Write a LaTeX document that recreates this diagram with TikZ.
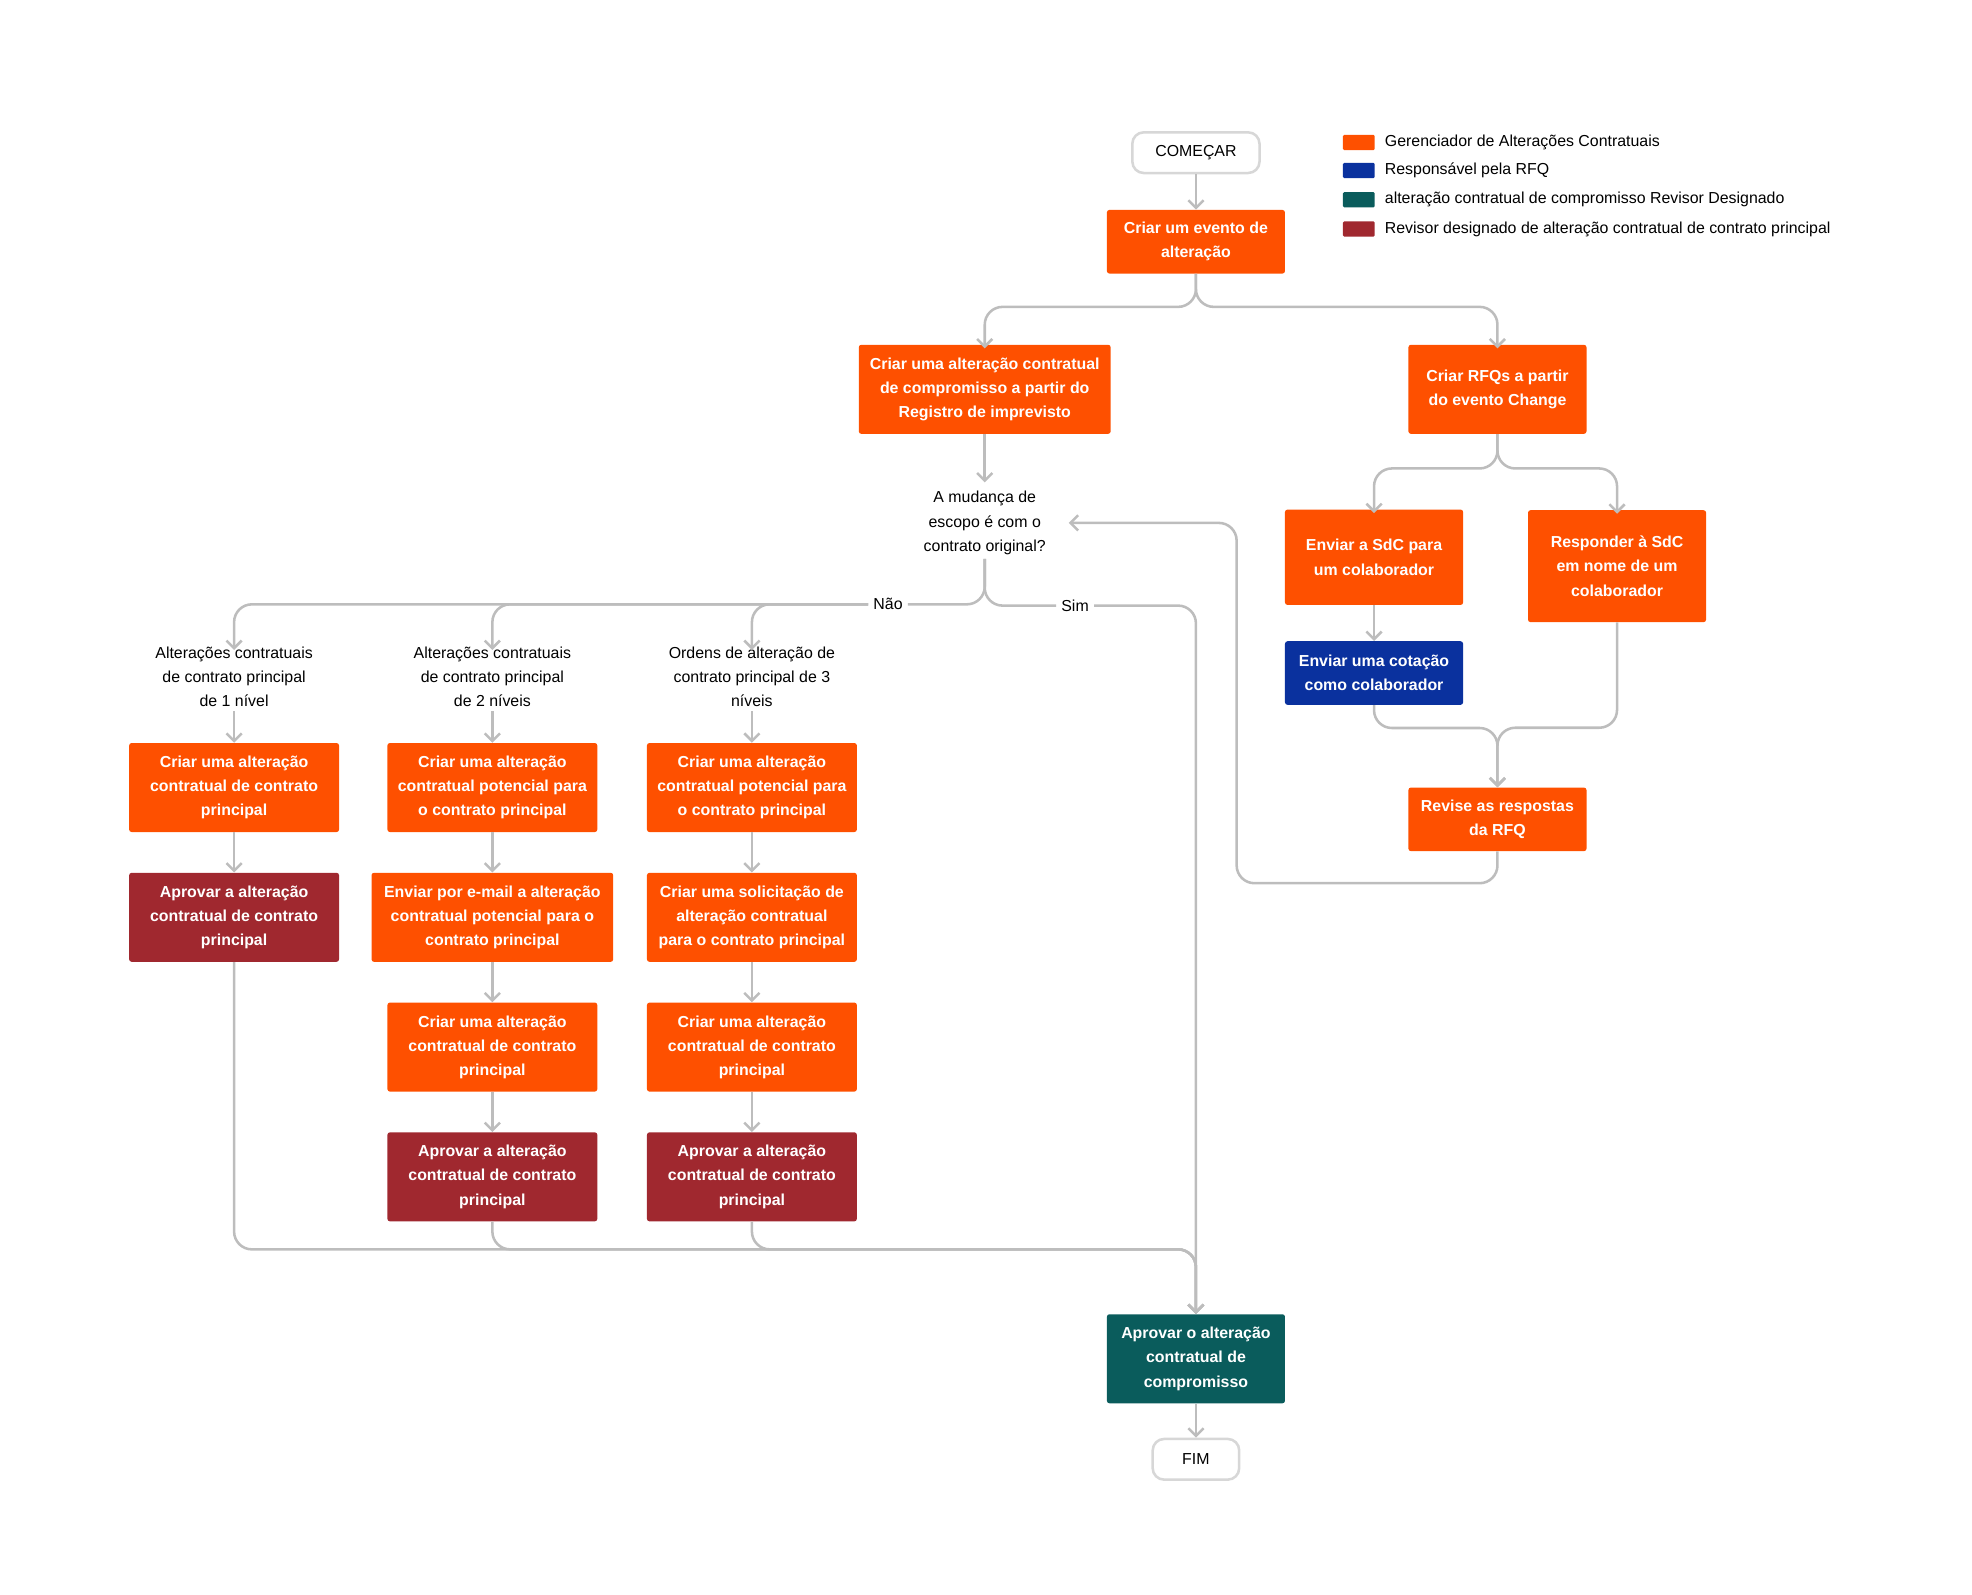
\documentclass[tikz,border=0pt]{standalone}
\usepackage{fontspec}
\setmainfont{Liberation Sans}
\usetikzlibrary{arrows.meta, positioning}
\definecolor{laranja}{HTML}{FE5000}
\definecolor{azul}{HTML}{0A319E}
\definecolor{petroleo}{HTML}{0A5C5C}
\definecolor{vinho}{HTML}{A0282F}
\definecolor{linha}{HTML}{BDBDBD}
\begin{document}
\begin{tikzpicture}[%
    x = 1pt, y = -1pt,
    font = \fontsize{12.5}{19}\selectfont,
    box/.style = {%
      rectangle, rounded corners = 2pt, draw = none,
      text = white, font = \fontsize{12.5}{19}\selectfont\bfseries,
      align = center, minimum height = 50pt, inner sep = 3pt },
    acao/.style = {box, fill = laranja},
    rfq/.style = {box, fill = azul},
    revisor/.style = {box, fill = vinho},
    compr/.style = {box, fill = petroleo},
    term/.style = {%
      rectangle, rounded corners = 9pt, draw = linha!60, line width = 2pt,
      minimum height = 32pt, fill = white },
    txt/.style = {align = center},
    flow/.style = {%
      draw = linha, line width = 2pt, rounded corners = 14pt,
      -{Straight Barb[length=6pt, width=12pt]} },
    leg/.style = {rectangle, minimum width = 25pt, minimum height = 12pt,
      inner sep = 0pt, rounded corners = 1pt}
  ]
\useasboundingbox (0,0) rectangle (1550,1253);

% legenda
\node[leg, fill = laranja] (l1) at (1068,112) {};
\node[leg, fill = azul] (l2) at (1068,134) {};
\node[leg, fill = petroleo] (l3) at (1068,157) {};
\node[leg, fill = vinho] (l4) at (1068,180) {};
\node[anchor = west] at (1085,112) {Gerenciador de Alterações Contratuais};
\node[anchor = west] at (1085,134) {Responsável pela RFQ};
\node[anchor = west] at (1085,157) {alteração contratual de compromisso Revisor Designado};
\node[anchor = west] at (1085,180) {Revisor designado de alteração contratual de contrato principal};

% fluxo principal
\node[term, minimum width = 100pt] (inicio) at (940,120) {COMEÇAR};
\node[acao, minimum width = 140pt] (evento) at (940,190) {Criar um evento de\\alteração};
\node[acao, minimum width = 198pt, minimum height = 70pt] (compromisso) at (774,306)
  {Criar uma alteração contratual\\de compromisso a partir do\\Registro de imprevisto};
\node[acao, minimum width = 140pt, minimum height = 70pt] (rfqs) at (1177,306)
  {Criar RFQs a partir\\do evento Change};
\node[txt] (pergunta) at (774,411) {A mudança de\\escopo é com o\\contrato original?};

% ramo RFQ
\node[acao, minimum width = 140pt, minimum height = 75pt] (enviar) at (1080,438)
  {Enviar a SdC para\\um colaborador};
\node[acao, minimum width = 140pt, minimum height = 88pt] (responder) at (1271,445)
  {Responder à SdC\\em nome de um\\colaborador};
\node[rfq, minimum width = 140pt] (cotacao) at (1080,529) {Enviar uma cotação\\como colaborador};
\node[acao, minimum width = 140pt] (revise) at (1177,644) {Revise as respostas\\da RFQ};

% colunas
\node[txt] (nivel1) at (184,532) {Alterações contratuais\\de contrato principal\\de 1 nível};
\node[txt] (nivel2) at (387,532) {Alterações contratuais\\de contrato principal\\de 2 níveis};
\node[txt] (nivel3) at (591,532) {Ordens de alteração de\\contrato principal de 3\\níveis};

\node[acao, minimum width = 165pt, minimum height = 70pt] (a1) at (184,619)
  {Criar uma alteração\\contratual de contrato\\principal};
\node[revisor, minimum width = 165pt, minimum height = 70pt] (b1) at (184,721)
  {Aprovar a alteração\\contratual de contrato\\principal};

\node[acao, minimum width = 165pt, minimum height = 70pt] (a2) at (387,619)
  {Criar uma alteração\\contratual potencial para\\o contrato principal};
\node[acao, minimum width = 190pt, minimum height = 70pt] (b2) at (387,721)
  {Enviar por e-mail a alteração\\contratual potencial para o\\contrato principal};
\node[acao, minimum width = 165pt, minimum height = 70pt] (c2) at (387,823)
  {Criar uma alteração\\contratual de contrato\\principal};
\node[revisor, minimum width = 165pt, minimum height = 70pt] (d2) at (387,925)
  {Aprovar a alteração\\contratual de contrato\\principal};

\node[acao, minimum width = 165pt, minimum height = 70pt] (a3) at (591,619)
  {Criar uma alteração\\contratual potencial para\\o contrato principal};
\node[acao, minimum width = 165pt, minimum height = 70pt] (b3) at (591,721)
  {Criar uma solicitação de\\alteração contratual\\para o contrato principal};
\node[acao, minimum width = 165pt, minimum height = 70pt] (c3) at (591,823)
  {Criar uma alteração\\contratual de contrato\\principal};
\node[revisor, minimum width = 165pt, minimum height = 70pt] (d3) at (591,925)
  {Aprovar a alteração\\contratual de contrato\\principal};

\node[compr, minimum width = 140pt, minimum height = 70pt] (aprovar) at (940,1068)
  {Aprovar o alteração\\contratual de\\compromisso};
\node[term, minimum width = 68pt] (fim) at (940,1147) {FIM};

\node[fill = white, inner sep = 4pt] (nao) at (698,475) {Não};
\node[fill = white, inner sep = 4pt] (sim) at (845,476) {Sim};
\coordinate (volta) at (840,411);

% conexoes
\draw[flow] (inicio) -- (evento);
\draw[flow] (evento.south) -- ++(0,26) -| ([yshift=-3pt]compromisso.north);
\draw[flow] (evento.south) -- ++(0,26) -| ([yshift=-3pt]rfqs.north);
\draw[flow] (compromisso.south) -- ++(0,38);
\draw[flow, -] (pergunta.south) |- (nao.east);
\draw[flow] (nao.west) -| ([yshift=-6pt]nivel1.north);
\draw[flow] (nao.west) -| ([yshift=-6pt]nivel2.north);
\draw[flow] (nao.west) -| ([yshift=-6pt]nivel3.north);
\draw[flow, -] (pergunta.south) |- (sim.west);
\draw[flow] (sim.east) -| (aprovar.north);

\draw[flow] (rfqs.south) -- ++(0,27) -| ([yshift=-3pt]enviar.north);
\draw[flow] (rfqs.south) -- ++(0,27) -| ([yshift=-3pt]responder.north);
\draw[flow] (enviar) -- (cotacao);
\draw[flow] (cotacao.south) -- ++(0,18) -| (revise.north);
\draw[flow] (responder.south) |- (1177,572) -- (revise.north);
\draw[flow] (revise.south) -- ++(0,25) -| (972,450) |- (volta);

\foreach \a/\b in {nivel1/a1, a1/b1, nivel2/a2, a2/b2, b2/c2, c2/d2,
                   nivel3/a3, a3/b3, b3/c3, c3/d3}
  \draw[flow] (\a) -- (\b);

\draw[flow] (b1.south) |- (900,982) -| (aprovar.north);
\draw[flow] (d2.south) |- (900,982) -| (aprovar.north);
\draw[flow] (d3.south) |- (900,982) -| (aprovar.north);
\draw[flow] (aprovar) -- (fim);

\end{tikzpicture}
\end{document}
